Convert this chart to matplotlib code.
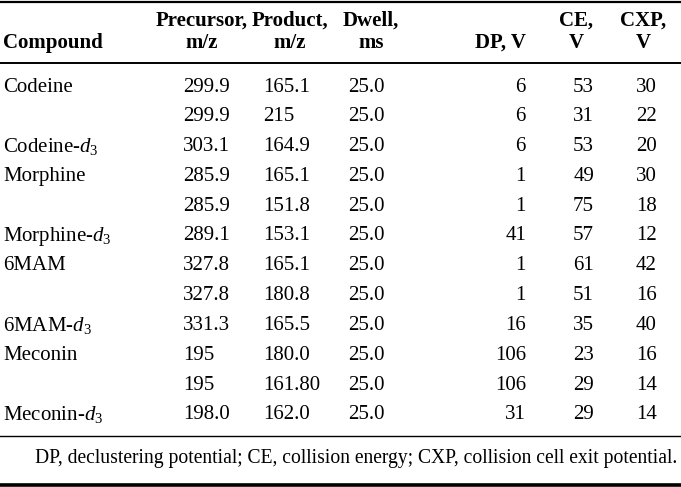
import matplotlib
matplotlib.use("Agg")
import matplotlib.pyplot as plt

# table contents
compounds = ["Codeine", "", "Codeine-$d_3$", "Morphine", "", "Morphine-$d_3$",
             "6MAM", "", "6MAM-$d_3$", "Meconin", "", "Meconin-$d_3$"]
precursor = ["299.9", "299.9", "303.1", "285.9", "285.9", "289.1",
             "327.8", "327.8", "331.3", "195", "195", "198.0"]
product = ["165.1", "215", "164.9", "165.1", "151.8", "153.1",
           "165.1", "180.8", "165.5", "180.0", "161.80", "162.0"]
dwell = ["25.0"] * 12
dp = [6, 6, 6, 1, 1, 41, 1, 1, 16, 106, 106, 31]
ce = [53, 31, 53, 49, 75, 57, 61, 51, 35, 23, 29, 29]
cxp = [30, 22, 20, 30, 18, 12, 42, 16, 40, 16, 14, 14]
footnote = "DP, declustering potential; CE, collision energy; CXP, collision cell exit potential."

W, H = 681, 487
plt.rcParams['font.family'] = ['Liberation Serif', 'DejaVu Serif']
plt.rcParams['mathtext.fontset'] = 'custom'
plt.rcParams['mathtext.rm'] = 'Liberation Serif'
plt.rcParams['mathtext.it'] = 'Liberation Serif:italic'

fig = plt.figure(figsize=(W / 100, H / 100), dpi=100)
ax = fig.add_axes([0, 0, 1, 1])
ax.set_xlim(0, W)
ax.set_ylim(H, 0)
ax.axis('off')

fs = 15
# rules
ax.plot([0, W], [2, 2], color='black', lw=1.6)
ax.plot([0, W], [63, 63], color='black', lw=1.4)
ax.plot([0, W], [436, 436], color='black', lw=1.0)
ax.plot([0, W], [485, 485], color='black', lw=2.6)

# header
hd = dict(fontsize=fs, fontweight='bold', va='center')
ax.text(3, 43, "Compound", ha='left', **hd)
ax.text(202, 21, "Precursor,", ha='center', **hd)
ax.text(202, 43, "m/z", ha='center', **hd)
ax.text(290, 21, "Product,", ha='center', **hd)
ax.text(290, 43, "m/z", ha='center', **hd)
ax.text(371, 21, "Dwell,", ha='center', **hd)
ax.text(371, 43, "ms", ha='center', **hd)
ax.text(526, 43, "DP, V", ha='right', **hd)
ax.text(576, 21, "CE,", ha='center', **hd)
ax.text(576, 43, "V", ha='center', **hd)
ax.text(643, 21, "CXP,", ha='center', **hd)
ax.text(643, 43, "V", ha='center', **hd)

y0, dy = 87, 29.8
for i in range(len(compounds)):
    y = y0 + i * dy
    kw = dict(fontsize=fs, va='center')
    ax.text(3, y, compounds[i], ha='left', **kw)
    ax.text(183, y, precursor[i], ha='left', **kw)
    ax.text(263, y, product[i], ha='left', **kw)
    ax.text(348, y, dwell[i], ha='left', **kw)
    ax.text(526, y, str(dp[i]), ha='right', **kw)
    ax.text(594, y, str(ce[i]), ha='right', **kw)
    ax.text(657, y, str(cxp[i]), ha='right', **kw)

ax.text(677, 459, footnote, ha='right', va='center', fontsize=14.1)

fig.savefig("out.png", dpi=100)
